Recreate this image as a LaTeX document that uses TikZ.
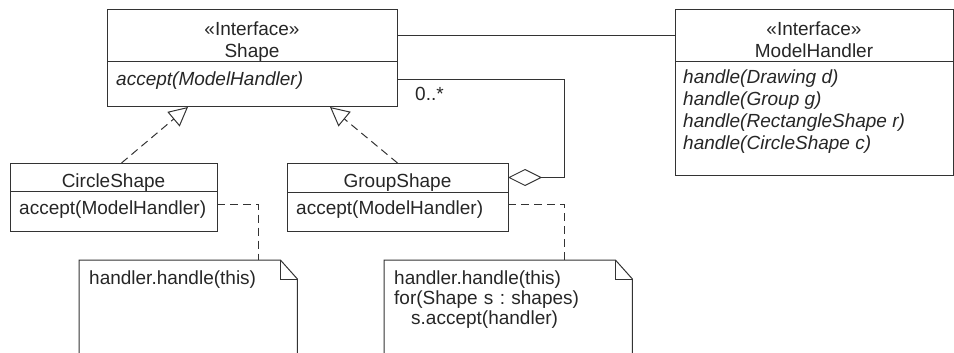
\documentclass[tikz,border=0pt]{standalone}
\usepackage{fontspec}
\setmainfont{Liberation Sans}
\usetikzlibrary{arrows.meta,calc}
\frenchspacing

\tikzset{
  umlbox/.style={draw=black!80, line width=1pt, inner sep=0pt, outer sep=0pt},
  umlline/.style={draw=black!80, line width=1pt},
  txt/.style={inner sep=0pt, text=black!85, font=\fontsize{19}{22}\selectfont},
  notetxt/.style={txt, font=\fontsize{19}{20}\selectfont, text width=#1,
    align=left, inner xsep=10pt, inner ysep=11pt, anchor=north west},
  realize/.style={umlline, dash pattern=on 8pt off 5pt,
    -{Triangle[open,length=19pt,width=19pt]}},
  noteline/.style={umlline, dash pattern=on 8pt off 5pt},
  aggr/.style={umlline, {Diamond[open,length=34pt,width=17pt]}-}
}

\begin{document}
\begin{tikzpicture}[x=1pt,y=-1pt]
  \useasboundingbox (0,0) rectangle (954,353);
  \clip (0,0) rectangle (954,353);

  \node[umlbox, minimum width=290pt, minimum height=52pt] (shapeH) at (252,36) {};
  \node[umlbox, minimum width=290pt, minimum height=45pt, anchor=north] (shapeB) at (shapeH.south) {};
  \node[txt, align=center, anchor=north] (shapeT) at (252,22) {«Interface»\\Shape};
  \node[txt, anchor=north west] (shapeOp) at (116,72) {\itshape accept(ModelHandler)};

  \node[umlbox, minimum width=278pt, minimum height=52pt] (mhH) at (814,36) {};
  \node[umlbox, minimum width=278pt, minimum height=113pt, anchor=north] (mhB) at (mhH.south) {};
  \node[txt, align=center, anchor=north] (mhT) at (814,22) {«Interface»\\ModelHandler};
  \node[txt, align=left, anchor=north west] (mhOps) at (683,70) {\itshape handle(Drawing d)\\
    \itshape handle(Group g)\\ \itshape handle(RectangleShape r)\\ \itshape handle(CircleShape c)};

  \node[umlbox, minimum width=207pt, minimum height=28pt] (circH) at (113.5,177) {};
  \node[umlbox, minimum width=207pt, minimum height=40pt, anchor=north] (circB) at (circH.south) {};
  \node[txt, anchor=base] (circT) at (113.5,187) {CircleShape};
  \node[txt, anchor=base west] (circOp) at (19,214.5) {accept(ModelHandler)};

  \node[umlbox, minimum width=221pt, minimum height=29pt] (grpH) at (397.5,177.5) {};
  \node[umlbox, minimum width=221pt, minimum height=39pt, anchor=north] (grpB) at (grpH.south) {};
  \node[txt, anchor=base] (grpT) at (397.5,187) {GroupShape};
  \node[txt, anchor=base west] (grpOp) at (296,214.5) {accept(ModelHandler)};

  \node[notetxt=198pt] (note1) at (79,260) {handler.handle(this)};
  \node[notetxt=228pt] (note2) at (384,260) {handler.handle(this)\\
    for(Shape s : shapes)\\ \hspace*{17pt}s.accept(handler)};
  \foreach \n in {note1,note2} {
    \draw[umlline] ($(\n.north west)+(0,110)$) -- (\n.north west)
      -- ($(\n.north east)+(-17,0)$) -- ($(\n.north east)+(0,19)$)
      -- ($(\n.north east)+(0,110)$);
    \draw[umlline] ($(\n.north east)+(-17,0)$) |- ($(\n.north east)+(0,19)$);
  }

  \coordinate (aggTop) at (564,80);
  \node[txt, anchor=base west] (mult) at (415,100) {0..*};

  \draw[umlline] (shapeH.east) -- (mhH.west);
  \draw[aggr] (grpH.east) -| (aggTop) -- (aggTop -| shapeB.east);
  \draw[realize] ($(circH.north)+(8,0)$) -- ($(shapeB.south)+(-64,0)$);
  \draw[realize] (grpH.north) -- ($(shapeB.south)+(78,0)$);
  \draw[noteline] ($(circB.east)+(0,-7)$) -| ($(note1.north east)+(-39,0)$);
  \draw[noteline] ($(grpB.east)+(0,-7)$) -| ($(note2.north east)+(-68,0)$);
\end{tikzpicture}
\end{document}
